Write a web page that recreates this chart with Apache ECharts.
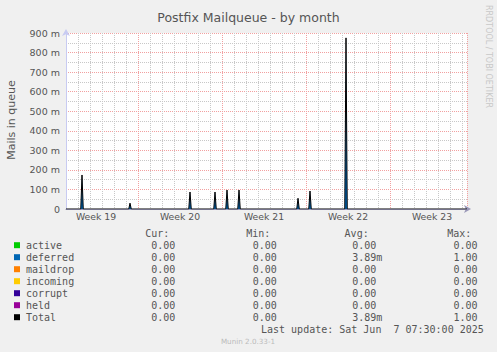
<!DOCTYPE html>
<html><head><meta charset="utf-8">
<script src="https://cdn.jsdelivr.net/npm/echarts@6/dist/echarts.min.js"></script>
<style>html,body{margin:0;padding:0;background:#f0f0f0}#c{width:497px;height:352px}</style>
</head><body><div id="c"></div>
<script>
// Time axis: hours since Mon 5 May 2025 00:00 (start of Week 19)
const xMinHour = 24;
const xMaxHour = 826;
const weekLabels = ['Week 19', 'Week 20', 'Week 21', 'Week 22', 'Week 23'];
const weekCenterHours = [84, 252, 420, 588, 756];
// Spikes in the 2-hour averaged data (hours since Week 19 start) and their values
const spikeHours = [56, 152, 272, 322, 346, 370, 488, 512, 584];
const deferredValues = [0.174, 0.030, 0.087, 0.087, 0.097, 0.097, 0.055, 0.092, 0.875];
const totalValues = [0.174, 0.030, 0.087, 0.087, 0.097, 0.097, 0.055, 0.092, 0.875];
// Legend table
const seriesNames = ['active', 'deferred', 'maildrop', 'incoming', 'corrupt', 'held', 'Total'];
const seriesColors = ['#00CC00', '#0066B3', '#FF8000', '#FFCC00', '#330099', '#990099', '#000000'];
const curValues = ['0.00', '0.00', '0.00', '0.00', '0.00', '0.00', '0.00'];
const minValues = ['0.00', '0.00', '0.00', '0.00', '0.00', '0.00', '0.00'];
const avgValues = ['0.00', '3.89m', '0.00', '0.00', '0.00', '0.00', '3.89m'];
const maxValues = ['0.00', '1.00', '0.00', '0.00', '0.00', '0.00', '1.00'];
const columnHeaders = ['Cur:', 'Min:', 'Avg:', 'Max:'];
const lastUpdate = 'Last update: Sat Jun  7 07:30:00 2025';

// each 2-hour sample drawn as a narrow peak between its neighbouring zero samples
const HALF = 2.5;
function buildData(values) {
  const d = [[xMinHour, 0]];
  spikeHours.forEach((h, i) => { d.push([h - HALF, 0], [h, values[i]], [h + HALF, 0]); });
  d.push([xMaxHour, 0]);
  return d;
}

const TXT = '#555';
const SANS = 'DejaVu Sans';
const MONO = "10px 'DejaVu Sans Mono'";
const MAJOR = '#f2a0a0';
const MINOR = '#c8c8c8';

const graphics = [];
graphics.push({type: 'text', x: 11.5, y: 120, rotation: Math.PI / 2,
  style: {text: 'Mails in queue', font: "11px 'DejaVu Sans'", fill: TXT, align: 'center', verticalAlign: 'middle'}});
graphics.push({type: 'text', x: 488.5, y: 56.5, rotation: -Math.PI / 2,
  style: {text: 'RRDTOOL / TOBI OETIKER', font: "8px 'DejaVu Sans'", fill: '#c8c8c8', align: 'center', verticalAlign: 'middle'}});
const headerX = [145.2, 246.2, 344.6, 447.2];
const colX = [151.2, 252.8, 352.2, 453.5];
columnHeaders.forEach((t, i) => graphics.push({type: 'text', x: headerX[i], y: 233.3,
  style: {text: t, font: MONO, fill: TXT, align: 'left', verticalAlign: 'middle'}}));
seriesNames.forEach((n, i) => {
  const y = 245.7 + 12 * i;
  graphics.push({type: 'rect', shape: {x: 14, y: y - 3.5, width: 6, height: 6}, style: {fill: seriesColors[i]}});
  graphics.push({type: 'text', x: 26, y: y, style: {text: n, font: MONO, fill: TXT, align: 'left', verticalAlign: 'middle'}});
  [curValues, minValues, avgValues, maxValues].forEach((arr, c) => graphics.push({type: 'text', x: colX[c], y: y,
    style: {text: arr[i], font: MONO, fill: TXT, align: 'left', verticalAlign: 'middle'}}));
});
graphics.push({type: 'text', x: 261, y: 329.3, style: {text: lastUpdate, font: MONO, fill: TXT, align: 'left', verticalAlign: 'middle'}});
graphics.push({type: 'text', x: 248, y: 341, style: {text: 'Munin 2.0.33-1', font: "7.2px 'DejaVu Sans'", fill: '#bbb', align: 'center', verticalAlign: 'middle'}});

const chart = echarts.init(document.getElementById('c'), null, {renderer: 'svg', width: 497, height: 352});
chart.setOption({
  animation: false,
  backgroundColor: '#f0f0f0',
  title: {text: 'Postfix Mailqueue - by month', left: 'center', top: 6,
    textStyle: {fontFamily: SANS, fontSize: 12.5, fontWeight: 'normal', color: TXT}},
  grid: {left: 66, right: 30, top: 33, bottom: 143, show: true, backgroundColor: '#fff', borderWidth: 0},
  xAxis: {type: 'value', min: xMinHour, max: xMaxHour, interval: 24,
    axisTick: {show: false},
    axisLabel: {customValues: weekCenterHours, formatter: v => weekLabels[weekCenterHours.indexOf(v)],
      color: TXT, fontFamily: SANS, fontSize: 9.3, margin: 3},
    axisLine: {show: true, lineStyle: {color: '#9a98b8', width: 1}, symbol: ['none', 'arrow'], symbolSize: [6, 7], symbolOffset: [0, 4]},
    splitLine: {show: true, lineStyle: {color: [MINOR, MINOR, MINOR, MINOR, MINOR, MINOR, MAJOR], width: 1, type: [1, 1]}}},
  yAxis: {type: 'value', min: 0, max: 0.9, interval: 0.05,
    axisLabel: {formatter: v => {
        const m = Math.round(v * 1000);
        if (m % 100 !== 0) return '';
        return m === 0 ? '0' : m + ' m';
      }, color: TXT, fontFamily: SANS, fontSize: 9.5, margin: 6},
    axisLine: {show: true, lineStyle: {color: '#c8cbf2', width: 1}, symbol: ['none', 'arrow'], symbolSize: [6, 7], symbolOffset: [0, 4]},
    axisTick: {show: false},
    splitLine: {show: true, lineStyle: {color: [MAJOR, MINOR], width: 1, type: [1, 1]}}},
  series: [
    {type: 'line', name: 'deferred', data: buildData(deferredValues),
      symbol: 'none', lineStyle: {width: 0}, areaStyle: {color: seriesColors[1], opacity: 1}, z: 3, silent: true},
    {type: 'line', name: 'Total', data: buildData(totalValues),
      symbol: 'none', lineStyle: {width: 1, color: seriesColors[6]}, z: 4, silent: true}
  ],
  graphic: graphics
});
</script></body></html>
